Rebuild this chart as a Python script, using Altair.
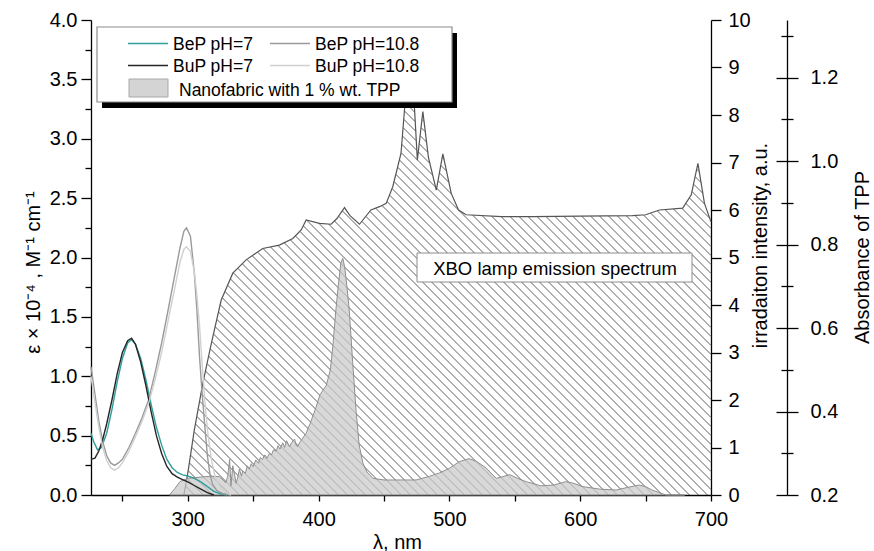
import altair as alt
import numpy as np
import pandas as pd

FONT = "Liberation Sans"

# ---------------- values ----------------
# molar absorptivity, eps x 10^-4 (left axis)
BEP7_WL = [226, 228, 231, 234, 238, 242, 246, 250, 254, 257, 260, 264, 268, 272, 276,
           280, 284, 288, 292, 296, 300, 305, 310, 315, 320, 325, 330]
BEP7_EPS = [0.52, 0.45, 0.38, 0.40, 0.52, 0.72, 0.95, 1.15, 1.28, 1.31, 1.27, 1.15, 0.97, 0.76, 0.57,
            0.42, 0.30, 0.23, 0.19, 0.17, 0.16, 0.14, 0.11, 0.07, 0.03, 0.01, 0.0]

BUP7_WL = [226, 229, 232, 235, 238, 242, 246, 250, 254, 257, 260, 264, 268, 272, 276,
           280, 284, 288, 292, 296, 300, 305, 310, 315, 320]
BUP7_EPS = [0.30, 0.31, 0.37, 0.47, 0.60, 0.80, 1.02, 1.20, 1.30, 1.32, 1.27, 1.12, 0.92, 0.70, 0.50,
            0.35, 0.24, 0.18, 0.15, 0.13, 0.11, 0.08, 0.05, 0.02, 0.0]

BEP108_WL = [226, 229, 232, 235, 238, 241, 244, 247, 250, 255, 260, 265, 270, 275, 280, 285,
             290, 294, 297, 299, 302, 305, 307, 309, 311, 313, 315, 317, 319, 322, 327, 333]
BEP108_EPS = [1.08, 0.85, 0.62, 0.45, 0.33, 0.27, 0.25, 0.27, 0.30, 0.40, 0.52, 0.65, 0.80, 1.03, 1.28, 1.56,
              1.85, 2.08, 2.22, 2.25, 2.18, 1.87, 1.55, 1.16, 0.85, 0.58, 0.33, 0.17, 0.09, 0.04, 0.01, 0.0]

BUP108_WL = [226, 229, 232, 235, 238, 241, 244, 247, 250, 255, 260, 265, 270, 275, 280, 285,
             290, 294, 297, 299, 302, 305, 307, 309, 311, 313, 315, 318, 321, 324, 328, 333]
BUP108_EPS = [1.00, 0.78, 0.57, 0.40, 0.29, 0.23, 0.21, 0.23, 0.27, 0.37, 0.49, 0.62, 0.77, 0.97, 1.20, 1.47,
              1.74, 1.96, 2.07, 2.09, 2.05, 1.88, 1.68, 1.42, 1.10, 0.80, 0.55, 0.30, 0.15, 0.08, 0.03, 0.0]

# XBO lamp emission (right axis, a.u.)
LAMP_WL = [297, 300, 305, 311.5, 318, 325.5, 334.4, 344.6, 357.3, 370, 380.3, 386.7, 390.5, 400.7,
           409.6, 414, 419.8, 424, 431.3, 440, 446.6, 451.7, 456.7, 463, 470, 473.3, 475.5, 479.7,
           484, 490, 495, 501.4, 507, 512.8, 540, 563.8, 600, 640, 650, 660.6, 678.4, 684.9, 690, 695, 700]
LAMP_IRR = [0.0, 0.46, 1.37, 2.35, 3.19, 4.10, 4.67, 4.95, 5.19, 5.26, 5.40, 5.58, 5.79, 5.72,
            5.70, 5.82, 6.05, 5.88, 5.70, 6.00, 6.07, 6.14, 6.49, 7.19, 9.60, 8.15, 7.05, 8.07,
            7.10, 6.42, 7.18, 6.35, 6.00, 5.90, 5.86, 5.86, 5.87, 5.88, 5.90, 6.00, 6.04, 6.32, 6.98, 6.14, 5.75]

# TPP nanofabric absorbance (third axis)
TPP_WL = [286, 290, 294, 300, 310, 318, 324, 327, 329, 330.5, 332, 333, 334.4, 335.7, 337, 338, 339.5,
          341, 342, 344, 345.5, 347, 348.5, 350, 352, 354, 355.5, 357, 359, 360.5, 362.5, 364, 365.5,
          367.6, 369, 370.5, 372.6, 374, 375.5, 377.8, 379.5, 381.6, 383, 384, 386, 390.5, 394, 398,
          401, 405.8, 409, 411, 413, 415, 417, 418.5, 420, 422, 423.6, 426, 428.7, 431, 433.8, 437,
          441.5, 450, 460, 474.6, 485, 492.5, 500, 507.7, 515, 521, 528, 535.8, 541, 546, 552, 558.7,
          570, 580, 589, 595, 602, 615, 627.5, 636, 645, 650, 655, 660, 665.7, 670, 680]
TPP_ABS = [0.200, 0.215, 0.232, 0.240, 0.243, 0.245, 0.244, 0.236, 0.229, 0.245, 0.285, 0.222, 0.270,
           0.250, 0.228, 0.240, 0.262, 0.245, 0.258, 0.252, 0.270, 0.262, 0.275, 0.268, 0.284, 0.276,
           0.290, 0.285, 0.296, 0.288, 0.300, 0.296, 0.308, 0.305, 0.318, 0.310, 0.325, 0.314, 0.330,
           0.316, 0.326, 0.334, 0.318, 0.316, 0.328, 0.348, 0.375, 0.410, 0.440, 0.462, 0.500, 0.560,
           0.636, 0.700, 0.755, 0.767, 0.745, 0.690, 0.636, 0.520, 0.400, 0.320, 0.277, 0.255, 0.240,
           0.236, 0.236, 0.236, 0.245, 0.253, 0.264, 0.280, 0.287, 0.280, 0.265, 0.240, 0.244, 0.249,
           0.240, 0.232, 0.222, 0.224, 0.232, 0.228, 0.220, 0.214, 0.212, 0.218, 0.224, 0.220, 0.212,
           0.206, 0.200, 0.200, 0.200]

SERIES = ["BeP pH=7", "BeP pH=10.8", "BuP pH=7", "BuP pH=10.8"]
SERIES_COLORS = ["#2f9e9c", "#9a9a9a", "#262626", "#d0d0d0"]
TPP_LABEL = "Nanofabric with 1 % wt. TPP"
ANNOT_TEXT = "XBO lamp emission spectrum"

X_TICKS = [250, 300, 350, 400, 450, 500, 550, 600, 650, 700]
EPS_TICKS = [0, 0.25, 0.5, 0.75, 1, 1.25, 1.5, 1.75, 2, 2.25, 2.5, 2.75, 3, 3.25, 3.5, 3.75, 4]
IRR_TICKS = [0, 0.5, 1, 1.5, 2, 2.5, 3, 3.5, 4, 4.5, 5, 5.5, 6, 6.5, 7, 7.5, 8, 8.5, 9, 9.5, 10]
ABS_TICKS = [0.2, 0.3, 0.4, 0.5, 0.6, 0.7, 0.8, 0.9, 1.0, 1.1, 1.2, 1.3]

# ---------------- layout ----------------
LEFT, TOP = 91, 20
W, H = 620, 475
TOTAL_W, TOTAL_H = 874, 551
X_DOM = [226, 700]
EPS_DOM = [0, 4]
IRR_DOM = [0, 10]
ABS_DOM = [0.2, 1.338]
ABS_AXIS_OFFSET = 76

x_scale = alt.Scale(domain=X_DOM, nice=False, zero=False)
eps_scale = alt.Scale(domain=EPS_DOM, nice=False, zero=False)
irr_scale = alt.Scale(domain=IRR_DOM, nice=False, zero=False)
abs_scale = alt.Scale(domain=ABS_DOM, nice=False, zero=False)

# ---------------- tables ----------------
abs_df = pd.concat([
    pd.DataFrame({"wl": BEP7_WL, "eps": BEP7_EPS, "series": SERIES[0]}),
    pd.DataFrame({"wl": BEP108_WL, "eps": BEP108_EPS, "series": SERIES[1]}),
    pd.DataFrame({"wl": BUP7_WL, "eps": BUP7_EPS, "series": SERIES[2]}),
    pd.DataFrame({"wl": BUP108_WL, "eps": BUP108_EPS, "series": SERIES[3]}),
], ignore_index=True)
lamp_df = pd.DataFrame({"wl": LAMP_WL, "irr": LAMP_IRR})
tpp_df = pd.DataFrame({"wl": TPP_WL, "A": TPP_ABS})


def hatch_segments(wl, vals, vmax, spacing=9.0):
    """Diagonal hatch lines clipped to the area under the curve (data units)."""
    sx = W / (X_DOM[1] - X_DOM[0])
    sy = H / vmax
    u = np.arange(0, W + 0.001, 0.25)
    lam = X_DOM[0] + u / sx
    top = np.interp(lam, wl, vals, left=0.0, right=vals[-1]) * sy
    rows = []
    for c in np.arange(spacing / 2, W + H, spacing):
        v = c - u
        inside = (v >= 0) & (v <= top) & (v <= H)
        edges = np.flatnonzero(np.diff(np.concatenate([[0], inside.astype(int), [0]])))
        for s, e in zip(edges[::2], edges[1::2]):
            u0, u1 = u[s], u[e - 1]
            if u1 - u0 < 0.5:
                continue
            rows.append({"wl": X_DOM[0] + u0 / sx, "irr": (c - u0) / sy,
                         "wl2": X_DOM[0] + u1 / sx, "irr2": (c - u1) / sy})
    return pd.DataFrame(rows)


hatch_df = hatch_segments(LAMP_WL, LAMP_IRR, IRR_DOM[1])

# ---------------- axes ----------------
def cond_size(test, big, small):
    return {"condition": {"test": test, "value": big}, "value": small}

x_axis = alt.Axis(values=X_TICKS, format="d",
                  labelExpr="datum.value % 100 === 0 ? datum.label : ''",
                  tickSize=6, labelPadding=8, labelFlush=False,
                  title="λ, nm", titleX=306, titleY=53, titleAlign="center", titleBaseline="alphabetic")

eps_axis = alt.Axis(orient="left", values=EPS_TICKS, format=".1f",
                    labelExpr="datum.value % 0.5 === 0 ? datum.label : ''",
                    tickSize=cond_size("datum.value % 0.5 === 0", 10, 6), labelPadding=4,
                    title="ε × 10⁻⁴ , M⁻¹ cm⁻¹", titleAngle=270, titleX=-58, titleY=252,
                    titleAlign="center", titleBaseline="middle")

irr_axis = alt.Axis(orient="right", values=IRR_TICKS, format="d",
                    labelExpr="datum.value % 1 === 0 ? datum.label : ''",
                    tickSize=cond_size("datum.value % 1 === 0", 10, 7), labelPadding=7,
                    title="irradaiton intensity, a.u.", titleAngle=270, titleX=49, titleY=225,
                    titleAlign="center", titleBaseline="middle")

abs_test = "round(datum.value * 10) % 2 === 0"
abs_axis_right = alt.Axis(orient="right", offset=ABS_AXIS_OFFSET, values=ABS_TICKS, format=".1f",
                          labelExpr=abs_test + " ? datum.label : ''",
                          tickSize=cond_size(abs_test, 11, 6), labelPadding=12,
                          title="Absorbance of TPP", titleAngle=270, titleX=75, titleY=237,
                          titleAlign="center", titleBaseline="middle")
abs_axis_left = alt.Axis(orient="left", offset=-(W + ABS_AXIS_OFFSET), values=ABS_TICKS,
                         labels=False, domain=False, title="",
                         tickSize=cond_size(abs_test, 11, 6))

X_ENC = alt.X("wl:Q", scale=x_scale, axis=x_axis)

# ---------------- lamp layer (right axis) ----------------
hatch = alt.Chart(hatch_df).mark_rule(color="#4d4d4d", strokeWidth=0.9).encode(
    x=X_ENC,
    x2="wl2:Q",
    y=alt.Y("irr:Q", scale=irr_scale, axis=irr_axis),
    y2="irr2:Q",
)
lamp_line = alt.Chart(lamp_df).mark_line(color="#555555", strokeWidth=1.2).encode(
    x=X_ENC,
    y=alt.Y("irr:Q", scale=irr_scale, axis=irr_axis),
)
annot_df = pd.DataFrame({"label": [ANNOT_TEXT]})
annot_box = alt.Chart(annot_df).mark_rect(fill="white", stroke="#8c8c8c", strokeWidth=1).encode(
    x=alt.value(417 - LEFT), x2=alt.value(692 - LEFT),
    y=alt.value(253 - TOP), y2=alt.value(282 - TOP),
)
annot_text = alt.Chart(annot_df).mark_text(font=FONT, fontSize=18.5, color="black",
                                           align="center", baseline="alphabetic").encode(
    x=alt.value(555 - LEFT), y=alt.value(275 - TOP), text="label:N",
)
lamp_layer = alt.layer(hatch, lamp_line, annot_box, annot_text)

# ---------------- TPP layer (third axis) ----------------
tpp_area = alt.Chart(tpp_df).mark_area(fill="#c9c9c9", fillOpacity=0.72, stroke="#8f8f8f",
                                       strokeWidth=1).encode(
    x=X_ENC,
    y=alt.Y("A:Q", scale=abs_scale, axis=abs_axis_right),
    y2=alt.datum(ABS_DOM[0]),
)
tpp_ticks = alt.Chart(tpp_df).mark_point(opacity=0).encode(
    x=X_ENC,
    y=alt.Y("A:Q", scale=abs_scale, axis=abs_axis_left),
)

# ---------------- absorption lines (left axis) ----------------
color_scale = alt.Scale(domain=SERIES, range=SERIES_COLORS)
abs_lines = alt.Chart(abs_df).mark_line(strokeWidth=1.4).encode(
    x=X_ENC,
    y=alt.Y("eps:Q", scale=eps_scale, axis=eps_axis),
    color=alt.Color("series:N", scale=color_scale, legend=None),
    detail="series:N",
)

# ---------------- legend (drawn in pixels) ----------------
LEG_BOX = (97, 27, 452, 102)
LEG_SHADOW = (5, 6)
LEG_SYM_X = [128, 270]
LEG_SYM_LEN = 40
LEG_TXT_X = [173, 315]
LEG_ROW_Y = [43.5, 65.5]
rows = []
for i, s in enumerate(SERIES):
    col, row = i % 2, i // 2
    rows.append({"series": s,
                 "sx1": LEG_SYM_X[col] - LEFT, "sx2": LEG_SYM_X[col] + LEG_SYM_LEN - LEFT,
                 "sy": LEG_ROW_Y[row] - TOP,
                 "tx": LEG_TXT_X[col] - LEFT, "ty": LEG_ROW_Y[row] + 6 - TOP})
leg_df = pd.DataFrame(rows)
one = pd.DataFrame({"label": [TPP_LABEL]})

leg_shadow = alt.Chart(one).mark_rect(fill="black").encode(
    x=alt.value(LEG_BOX[0] + LEG_SHADOW[0] - LEFT), x2=alt.value(LEG_BOX[2] + LEG_SHADOW[0] - LEFT),
    y=alt.value(LEG_BOX[1] + LEG_SHADOW[1] - TOP), y2=alt.value(LEG_BOX[3] + LEG_SHADOW[1] - TOP),
)
leg_box = alt.Chart(one).mark_rect(fill="white", stroke="#8c8c8c", strokeWidth=1.2).encode(
    x=alt.value(LEG_BOX[0] - LEFT), x2=alt.value(LEG_BOX[2] - LEFT),
    y=alt.value(LEG_BOX[1] - TOP), y2=alt.value(LEG_BOX[3] - TOP),
)
leg_lines = alt.Chart(leg_df).mark_rule(strokeWidth=1.6).encode(
    x=alt.X("sx1:Q", scale=None, axis=None), x2="sx2:Q",
    y=alt.Y("sy:Q", scale=None, axis=None),
    color=alt.Color("series:N", scale=color_scale, legend=None),
)
leg_text = alt.Chart(leg_df).mark_text(font=FONT, fontSize=17.5, color="black",
                                       align="left", baseline="alphabetic").encode(
    x=alt.X("tx:Q", scale=None, axis=None),
    y=alt.Y("ty:Q", scale=None, axis=None),
    text="series:N",
)
leg_swatch = alt.Chart(one).mark_rect(fill="#d4d4d4", stroke="#a8a8a8", strokeWidth=1).encode(
    x=alt.value(129 - LEFT), x2=alt.value(168 - LEFT),
    y=alt.value(79 - TOP), y2=alt.value(97 - TOP),
)
leg_swatch_text = alt.Chart(one).mark_text(font=FONT, fontSize=17.5, color="black",
                                           align="left", baseline="alphabetic").encode(
    x=alt.value(179 - LEFT), y=alt.value(96 - TOP), text="label:N",
)

chart = alt.layer(
    lamp_layer, tpp_area, tpp_ticks, abs_lines,
    leg_shadow, leg_box, leg_lines, leg_text, leg_swatch, leg_swatch_text,
).resolve_scale(y="independent").properties(
    width=W, height=H,
    padding={"left": LEFT, "top": TOP, "right": TOTAL_W - LEFT - W, "bottom": TOTAL_H - TOP - H},
    autosize=alt.AutoSizeParams(type="none"),
    background="white",
).configure_view(stroke=None).configure_axis(
    labelFont=FONT, labelFontSize=20, labelColor="black",
    titleFont=FONT, titleFontSize=20, titleFontWeight="normal", titleColor="black",
    domainColor="black", domainWidth=1.3, tickColor="black", tickWidth=1.3,
    grid=False, labelOverlap=False,
)

chart.save("out.html", embed_options={"renderer": "svg", "actions": False})
